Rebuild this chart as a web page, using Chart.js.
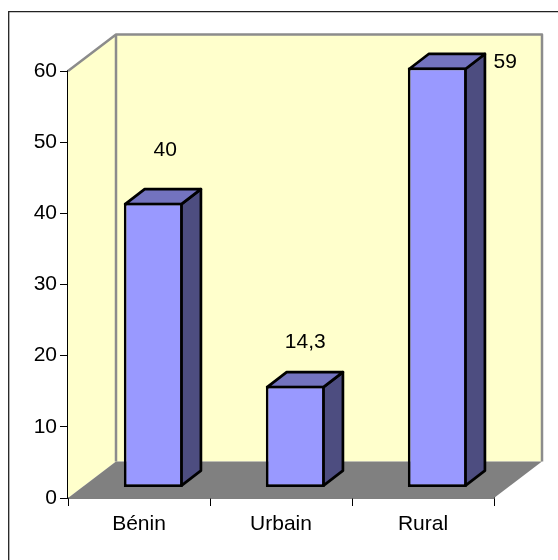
<!DOCTYPE html>
<html>
<head>
<meta charset="utf-8">
<style>
  html, body { margin: 0; padding: 0; background: #fff; }
  canvas { display: block; }
</style>
<script src="https://cdn.jsdelivr.net/npm/chart.js@4"></script>
</head>
<body>
<canvas id="chart" width="558" height="560"></canvas>
<script>
const categories = ['Bénin', 'Urbain', 'Rural'];
const values = [40, 14.3, 59];
const valueLabels = ['40', '14,3', '59'];
// the labels were placed by hand in the original, offset from the bar's front top centre
const labelShiftX = [12, 10, 68];
const labelShiftY = [-53, -44, -5];

const fontName = '"Liberation Sans", Arial, sans-serif';
const fontSize = 21;
const wallDepth = { x: 48, y: -36.5 };
const barShift = { x: 14.3, y: -10.5 };
const barDepth = { x: 19.5, y: -15 };
const barLine = 2.7;

function poly(ctx, pts, fill, stroke, width) {
    ctx.beginPath();
    pts.forEach((p, i) => i ? ctx.lineTo(p[0], p[1]) : ctx.moveTo(p[0], p[1]));
    ctx.closePath();
    if (fill) { ctx.fillStyle = fill; ctx.fill(); }
    if (stroke) { ctx.strokeStyle = stroke; ctx.lineWidth = width; ctx.stroke(); }
}

const scene3d = {
    id: 'scene3d',
    beforeDraw(chart) {
        // only the top and left of the frame show in the picture
        const ctx = chart.ctx;
        ctx.save();
        ctx.strokeStyle = '#222';
        ctx.lineWidth = 1.3;
        ctx.beginPath();
        ctx.moveTo(8.7, chart.height);
        ctx.lineTo(8.7, 11.7);
        ctx.lineTo(chart.width, 11.7);
        ctx.stroke();
        ctx.restore();
    },
    beforeDatasetsDraw(chart) {
        const ctx = chart.ctx;
        const a = chart.chartArea;
        const dx = wallDepth.x, dy = wallDepth.y;
        ctx.save();
        ctx.lineJoin = 'round';
        // back wall, side wall, floor
        poly(ctx, [[a.left + dx, a.top + dy], [a.right + dx, a.top + dy], [a.right + dx, a.bottom + dy], [a.left + dx, a.bottom + dy]], '#ffffcc');
        poly(ctx, [[a.left, a.top], [a.left + dx, a.top + dy], [a.left + dx, a.bottom + dy], [a.left, a.bottom]], '#ffffcc');
        poly(ctx, [[a.left, a.bottom], [a.right, a.bottom], [a.right + dx, a.bottom + dy], [a.left + dx, a.bottom + dy]], '#808080');
        // grey wall edges
        ctx.strokeStyle = '#8c8c8c';
        ctx.lineWidth = 2.5;
        ctx.beginPath();
        ctx.moveTo(a.left, a.top);
        ctx.lineTo(a.left + dx, a.top + dy);
        ctx.lineTo(a.right + dx, a.top + dy);
        ctx.lineTo(a.right + dx, a.bottom + dy);
        ctx.moveTo(a.left + dx, a.top + dy);
        ctx.lineTo(a.left + dx, a.bottom + dy);
        ctx.stroke();
        // top and side faces of the bars, from the bar elements
        chart.getDatasetMeta(0).data.forEach(bar => {
            const half = bar.width / 2 - barLine / 2;
            const l = bar.x - half + barShift.x, r = bar.x + half + barShift.x;
            const t = bar.y + barShift.y + barLine / 2, b = bar.base + barShift.y - barLine / 2;
            const ox = barDepth.x, oy = barDepth.y;
            poly(ctx, [[r, t], [r + ox, t + oy], [r + ox, b + oy], [r, b]], '#4d4d80', '#000', barLine);
            poly(ctx, [[l, t], [l + ox, t + oy], [r + ox, t + oy], [r, t]], '#7373bf', '#000', barLine);
        });
        ctx.restore();
    },
    beforeDatasetDraw(chart) {
        chart.ctx.save();
        chart.ctx.translate(barShift.x, barShift.y);
    },
    afterDatasetDraw(chart) {
        chart.ctx.restore();
    },
    afterDatasetsDraw(chart) {
        const ctx = chart.ctx;
        ctx.save();
        ctx.font = fontSize + 'px ' + fontName;
        ctx.fillStyle = '#000';
        ctx.textAlign = 'center';
        ctx.textBaseline = 'middle';
        chart.getDatasetMeta(0).data.forEach((bar, i) => {
            ctx.fillText(valueLabels[i],
                bar.x + barShift.x + labelShiftX[i],
                bar.y + barShift.y + labelShiftY[i]);
        });
        ctx.restore();
    }
};

new Chart(document.getElementById('chart'), {
    type: 'bar',
    data: {
        labels: categories,
        datasets: [{
            data: values,
            backgroundColor: '#9999ff',
            borderColor: '#000',
            borderWidth: barLine,
            borderSkipped: false,
            barPercentage: 0.415,
            categoryPercentage: 1
        }]
    },
    plugins: [scene3d],
    options: {
        responsive: false,
        animation: false,
        layout: { padding: { left: 0, top: 71, right: 64, bottom: 0 } },
        plugins: {
            legend: { display: false },
            title: { display: false },
            tooltip: { enabled: false }
        },
        scales: {
            x: {
                afterFit(scale) { scale.height = 62; },
                grid: { display: true, drawOnChartArea: false, drawTicks: true, tickLength: 8, color: '#000', offset: true },
                border: { display: true, color: '#000', width: 1.5 },
                ticks: { color: '#000', font: { family: fontName, size: fontSize }, padding: 6, maxRotation: 0 }
            },
            y: {
                min: 0,
                max: 60,
                afterFit(scale) { scale.width = 68; },
                grid: { display: true, drawOnChartArea: false, drawTicks: true, tickLength: 8, color: '#000' },
                border: { display: true, color: '#000', width: 1.5 },
                ticks: { stepSize: 10, color: '#000', font: { family: fontName, size: fontSize }, padding: 3 }
            }
        }
    }
});
</script>
</body>
</html>
